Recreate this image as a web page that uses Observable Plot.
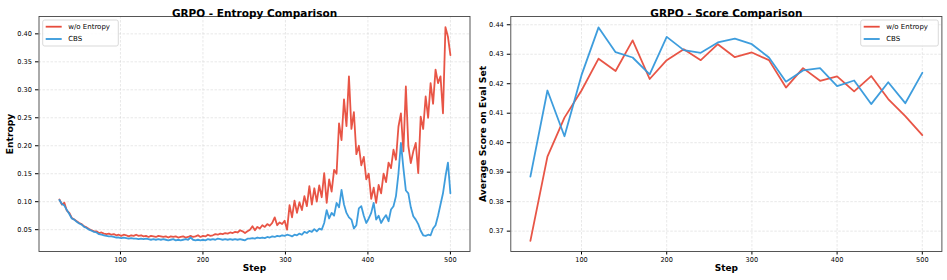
<!DOCTYPE html>
<html>
<head>
<meta charset="utf-8">
<script src="https://cdn.jsdelivr.net/npm/d3@7"></script>
<script src="https://cdn.jsdelivr.net/npm/@observablehq/plot@0.6"></script>
<style>
  body { margin: 0; background: white; }
  #wrap { display: flex; width: 947px; height: 280px; }
  svg { font-family: "DejaVu Sans", sans-serif; }
</style>
</head>
<body>
<div id="wrap"></div>
<script>
// ---------- Data ----------
const seriesNames = ["w/o Entropy", "CBS"];
const seriesColors = ["#e74c3c", "#3498db"];

// Entropy panel: steps 26, 29, ..., 500
const entropySteps = d3.range(26, 501, 3);
const entropyWoEntropy = [
  0.104,0.095,0.098,0.084,0.080,0.071,0.068,0.065,0.062,0.060,
  0.056,0.054,0.051,0.049,0.047,0.047,0.044,0.045,0.043,0.042,
  0.043,0.041,0.042,0.040,0.041,0.039,0.041,0.040,0.038,0.040,
  0.039,0.041,0.039,0.040,0.038,0.039,0.037,0.039,0.038,0.037,
  0.039,0.038,0.037,0.038,0.036,0.038,0.037,0.038,0.036,0.037,
  0.038,0.036,0.037,0.039,0.037,0.038,0.040,0.037,0.039,0.038,
  0.041,0.039,0.040,0.042,0.041,0.043,0.042,0.044,0.043,0.045,
  0.044,0.046,0.045,0.049,0.047,0.044,0.047,0.050,0.056,0.049,
  0.055,0.052,0.058,0.055,0.060,0.057,0.062,0.072,0.058,0.063,
  0.060,0.066,0.050,0.094,0.072,0.102,0.080,0.099,0.085,0.110,
  0.092,0.128,0.095,0.124,0.100,0.129,0.108,0.151,0.098,0.140,
  0.118,0.157,0.150,0.240,0.210,0.283,0.235,0.324,0.230,0.260,
  0.185,0.200,0.165,0.180,0.140,0.150,0.105,0.125,0.098,0.130,
  0.115,0.150,0.135,0.170,0.160,0.193,0.175,0.234,0.258,0.190,
  0.306,0.200,0.169,0.190,0.205,0.151,0.252,0.230,0.288,0.250,
  0.312,0.275,0.336,0.312,0.324,0.258,0.412,0.395,0.362
];
const entropyCBS = [
  0.103,0.096,0.093,0.085,0.078,0.070,0.068,0.064,0.061,0.059,
  0.055,0.053,0.050,0.048,0.046,0.045,0.042,0.041,0.040,0.039,
  0.038,0.038,0.037,0.036,0.036,0.035,0.036,0.035,0.034,0.035,
  0.034,0.034,0.033,0.034,0.033,0.034,0.033,0.032,0.033,0.032,
  0.033,0.032,0.033,0.032,0.031,0.032,0.033,0.031,0.032,0.031,
  0.032,0.033,0.032,0.036,0.032,0.031,0.032,0.031,0.032,0.031,
  0.033,0.032,0.033,0.032,0.034,0.033,0.032,0.033,0.032,0.033,
  0.032,0.033,0.032,0.033,0.032,0.031,0.034,0.034,0.035,0.034,
  0.036,0.035,0.036,0.035,0.037,0.036,0.038,0.037,0.039,0.038,
  0.040,0.039,0.041,0.040,0.038,0.041,0.040,0.043,0.041,0.046,
  0.044,0.048,0.046,0.051,0.047,0.052,0.050,0.062,0.085,0.070,
  0.080,0.075,0.098,0.090,0.121,0.095,0.080,0.072,0.068,0.052,
  0.058,0.088,0.092,0.075,0.062,0.070,0.080,0.098,0.068,0.075,
  0.062,0.070,0.076,0.065,0.086,0.092,0.110,0.150,0.205,0.160,
  0.120,0.115,0.090,0.074,0.068,0.060,0.048,0.040,0.039,0.041,
  0.040,0.052,0.058,0.075,0.095,0.115,0.145,0.170,0.115
];

// Score panel: steps 40, 60, ..., 500
const scoreSteps = d3.range(40, 501, 20);
const scoreWoEntropy = [
  0.3667,0.3953,0.4085,0.4177,0.4285,0.4243,0.4347,0.4216,0.4280,0.4317,
  0.4280,0.4334,0.4290,0.4306,0.4280,0.4187,0.4253,0.4210,0.4225,0.4174,
  0.4226,0.4148,0.4090,0.4026
];
const scoreCBS = [
  0.3885,0.4177,0.4022,0.4229,0.4391,0.4307,0.4289,0.4232,0.4359,0.4314,
  0.4305,0.4340,0.4353,0.4334,0.4289,0.4207,0.4245,0.4253,0.4192,0.4211,
  0.4131,0.4205,0.4134,0.4237
];

const xTicks = [100, 200, 300, 400, 500];
const entropyYTicks = [0.05, 0.10, 0.15, 0.20, 0.25, 0.30, 0.35, 0.40];
const scoreYTicks = [0.37, 0.38, 0.39, 0.40, 0.41, 0.42, 0.43, 0.44];

// ---------- Helpers ----------
const gridStyle = {stroke: "#c8c8c8", strokeOpacity: 0.7, strokeDasharray: "2.5,1.5", strokeWidth: 0.6};
const toRows = (steps, vals) => steps.map((s, i) => ({step: s, value: vals[i]}));

function panel({width, marginLeft, marginRight, xDomain, yDomain, yTicks, title, yLabel, data}) {
  return Plot.plot({
    width, height: 280,
    marginLeft, marginRight, marginTop: 16, marginBottom: 29,
    style: {fontFamily: "DejaVu Sans", fontSize: "6.6px", color: "#000", background: "white", overflow: "visible"},
    x: {domain: xDomain},
    y: {domain: yDomain},
    marks: [
      Plot.gridX(xTicks, gridStyle),
      Plot.gridY(yTicks, gridStyle),
      Plot.axisX(xTicks, {tickSize: 3.5, tickPadding: 2.5, label: null, tickFormat: d => String(d), fontSize: 6.6}),
      Plot.axisY(yTicks, {tickSize: 3.5, tickPadding: 3.5, label: null, tickFormat: d3.format(".2f"), fontSize: 6.6}),
      ...data.map((vals, k) => Plot.line(vals, {x: "step", y: "value", stroke: seriesColors[k], strokeWidth: 1.8, strokeOpacity: 0.95})),
      Plot.frame({stroke: "#444", strokeWidth: 0.9}),
      Plot.text([title], {frameAnchor: "top", dy: -7, fontSize: 10.5, fontWeight: "bold", fill: "#000"}),
      Plot.text(["Step"], {frameAnchor: "bottom", dy: 19, fontSize: 9, fontWeight: "bold", fill: "#000"}),
      Plot.text([yLabel], {frameAnchor: "left", textAnchor: "middle", dx: -(marginLeft - 9.5), rotate: -90, fontSize: 9.2, fontWeight: "bold", fill: "#000"})
    ]
  });
}

function addLegend(svg, x0, y0, w, h) {
  const g = d3.select(svg).append("g").attr("text-anchor", "start");
  g.append("rect").attr("x", x0).attr("y", y0).attr("width", w).attr("height", h)
    .attr("rx", 2).attr("fill", "white").attr("fill-opacity", 0.85)
    .attr("stroke", "#cfcfcf").attr("stroke-width", 0.8);
  seriesNames.forEach((name, i) => {
    const yy = y0 + 6.7 + i * 12.3;
    g.append("line").attr("x1", x0 + 3).attr("x2", x0 + 19).attr("y1", yy).attr("y2", yy)
      .attr("stroke", seriesColors[i]).attr("stroke-width", 1.8);
    g.append("text").attr("x", x0 + 25.5).attr("y", yy).attr("dy", "0.35em")
      .attr("text-anchor", "start")
      .attr("font-size", 7).attr("font-family", "DejaVu Sans").attr("fill", "#000").text(name);
  });
}

// ---------- Render ----------
const wrap = document.getElementById("wrap");

const left = panel({
  width: 473, marginLeft: 38.5, marginRight: 3.5,
  xDomain: [1.25, 523.75], yDomain: [0.011, 0.431], yTicks: entropyYTicks,
  title: "GRPO - Entropy Comparison", yLabel: "Entropy",
  data: [toRows(entropySteps, entropyWoEntropy), toRows(entropySteps, entropyCBS)]
});
addLegend(left, 42.7, 20, 75.6, 26);
wrap.appendChild(left);

const right = panel({
  width: 474, marginLeft: 37.3, marginRight: 5.6,
  xDomain: [17, 523], yDomain: [0.3631, 0.4428], yTicks: scoreYTicks,
  title: "GRPO - Score Comparison", yLabel: "Average Score on Eval Set",
  data: [toRows(scoreSteps, scoreWoEntropy), toRows(scoreSteps, scoreCBS)]
});
addLegend(right, 387.7, 20, 77.6, 26);
wrap.appendChild(right);
</script>
</body>
</html>
